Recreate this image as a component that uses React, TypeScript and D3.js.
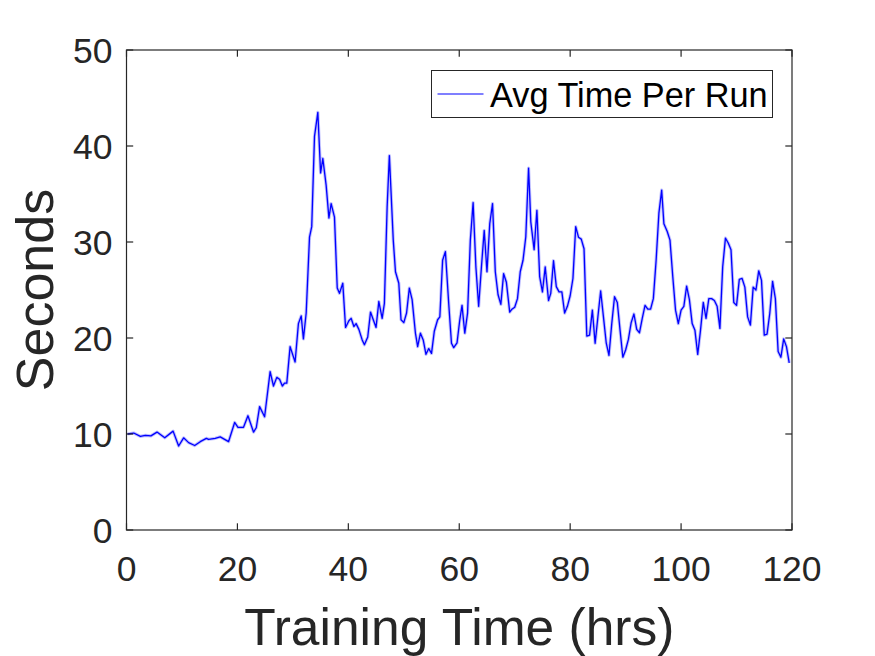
import * as d3 from 'd3';

// Hours of training (x) and average seconds per run (y)
const hours = [
    0.2, 1.3, 2.5, 3.4, 4.4, 5.5, 6.9, 8.4, 9.4, 10.3, 11.2, 12.3, 13.3, 14.4, 14.8, 16.0, 16.9, 18.4, 19.5,
    20.1, 21.1, 21.9, 22.9, 23.4, 24.0, 24.9, 25.9, 26.5, 27.1, 27.6, 28.1, 28.5, 28.9, 29.5, 30.4, 31.0,
    31.5, 31.9, 32.4, 33.0, 33.4, 33.9, 34.5, 35.0, 35.4, 36.0, 36.5, 36.9, 37.5, 38.0, 38.4, 39.0, 39.5,
    40.1, 40.5, 41.0, 41.4, 41.9, 42.5, 42.9, 43.5, 44.0, 44.4, 45.0, 45.5, 46.1, 46.5, 47.0, 47.4, 48.1,
    48.5, 49.1, 49.5, 50.0, 50.5, 51.0, 51.5, 52.1, 52.5, 53.0, 53.5, 54.0, 54.5, 55.0, 55.5, 56.1, 56.5,
    57.0, 57.5, 58.1, 58.6, 59.0, 59.6, 60.1, 60.5, 61.0, 61.5, 62.0, 62.5, 63.0, 63.5, 64.0, 64.5, 65.0,
    65.5, 66.0, 66.5, 67.0, 67.5, 68.0, 68.5, 69.1, 69.5, 70.0, 70.5, 71.0, 71.5, 72.0, 72.5, 72.9, 73.5,
    74.0, 74.5, 75.0, 75.5, 76.1, 76.5, 77.0, 77.5, 78.0, 78.5, 79.0, 79.5, 80.0, 80.5, 81.0, 81.5, 82.0,
    82.5, 83.0, 83.5, 84.0, 84.5, 85.0, 85.5, 86.0, 86.5, 87.0, 87.5, 88.0, 88.5, 89.0, 89.5, 90.0, 90.5,
    91.0, 91.5, 92.0, 92.5, 93.0, 93.5, 94.0, 94.5, 95.0, 95.5, 96.0, 96.5, 96.9, 97.5, 98.0, 98.5, 99.0,
    99.5, 100.0, 100.5, 101.0, 101.5, 102.0, 102.5, 103.0, 103.5, 104.0, 104.5, 105.0, 105.5, 106.0, 106.5,
    107.0, 107.5, 108.0, 108.5, 109.0, 109.5, 110.0, 110.5, 111.0, 111.5, 112.0, 112.5, 113.0, 113.5, 114.0,
    114.5, 115.0, 115.5, 116.0, 116.5, 117.0, 117.5, 118.0, 118.5, 119.0, 119.5
];

const avgTime = [
    10.0, 10.1, 9.75, 9.85, 9.8, 10.2, 9.6, 10.3, 8.75, 9.6, 9.1, 8.8, 9.2, 9.55, 9.45, 9.55, 9.7, 9.2, 11.2,
    10.7, 10.7, 11.9, 10.2, 10.65, 12.85, 11.8, 16.5, 15.0, 15.9, 15.7, 15.0, 15.3, 15.3, 19.1, 17.5, 21.5,
    22.3, 19.9, 22.6, 30.5, 31.6, 41.0, 43.5, 37.2, 38.7, 35.9, 32.5, 34.0, 32.6, 25.2, 24.65, 25.7, 21.1,
    21.8, 22.05, 21.2, 21.5, 20.9, 19.8, 19.3, 20.1, 22.7, 22.05, 21.1, 23.8, 22.05, 23.6, 33.7, 39.0, 30.2,
    26.9, 25.7, 21.9, 21.6, 22.6, 25.2, 24.0, 20.5, 19.1, 20.5, 19.8, 18.3, 18.9, 18.4, 20.7, 21.9, 22.2,
    28.1, 29.0, 23.6, 19.45, 19.0, 19.5, 21.9, 23.4, 20.5, 22.6, 30.2, 34.1, 27.4, 23.3, 27.4, 31.2, 26.9,
    31.9, 34.0, 26.9, 24.5, 23.5, 26.7, 25.8, 22.7, 23.0, 23.2, 24.1, 26.9, 28.1, 30.55, 37.7, 32.1, 29.2,
    33.3, 26.4, 24.8, 27.4, 23.9, 24.65, 28.05, 25.35, 24.8, 24.8, 22.6, 23.3, 24.4, 26.2, 31.6, 30.5, 30.3,
    29.3, 20.2, 20.3, 22.9, 19.45, 22.2, 24.9, 22.2, 19.5, 18.2, 21.5, 24.3, 23.7, 20.8, 18.0, 18.75, 19.85,
    21.6, 22.5, 20.9, 20.55, 22.05, 23.4, 23.0, 23.0, 24.1, 28.1, 33.0, 35.4, 31.9, 31.1, 30.2, 26.4, 22.9,
    21.5, 22.9, 23.3, 25.4, 24.0, 21.5, 20.8, 18.3, 20.8, 23.7, 22.05, 24.1, 24.1, 23.9, 23.3,
    21.0, 27.4, 30.4, 29.9, 29.2, 23.7, 23.4, 26.1, 26.2, 25.3, 22.2, 21.35, 25.3, 25.0, 27.0,
    26.0, 20.3, 20.4, 22.6, 25.9, 24.1, 18.6, 18.0, 19.9, 19.1, 17.4
];

const xTicks = [0, 20, 40, 60, 80, 100, 120];
const yTicks = [0, 10, 20, 30, 40, 50];
const seriesName = "Avg Time Per Run";

const W = 875;
const H = 656;
const margin = { top: 50, right: 83, bottom: 126, left: 126.5 };
const FONT = "'Liberation Sans', Arial, Helvetica, sans-serif";
const AXIS = "#262626";

export default function App() {
    const plotW = W - margin.left - margin.right;
    const plotH = H - margin.top - margin.bottom;

    const x = d3.scaleLinear().domain([0, 120]).range([0, plotW]);
    const y = d3.scaleLinear().domain([0, 50]).range([plotH, 0]);

    const pts = hours.map((h, i) => [h, avgTime[i]] as [number, number]);
    const line = d3.line<[number, number]>()
        .x(d => x(d[0]))
        .y(d => y(d[1]));
    const path = line(pts) || "";

    const tick = 6.7;

    return (
        <svg width={W} height={H} style={{ position: "absolute", left: 0, top: 0, background: "#fff" }}
            fontFamily={FONT}>
            <rect width={W} height={H} fill="#fff" />
            <g transform={`translate(${margin.left},${margin.top})`}>
                {/* faint band around the mean */}
                <path d={path} fill="none" stroke="#0000ff" strokeOpacity={0.25} strokeWidth={3.2} strokeLinejoin="round" />
                <path d={path} fill="none" stroke="#0000ff" strokeWidth={1.3} strokeLinejoin="round" />

                {/* box */}
                <rect x={0} y={0} width={plotW} height={plotH} fill="none" stroke={AXIS} strokeWidth={1.2} />

                {xTicks.map(t => (
                    <g key={`x${t}`}>
                        <line x1={x(t)} x2={x(t)} y1={plotH} y2={plotH - tick} stroke={AXIS} strokeWidth={1.2} />
                        <line x1={x(t)} x2={x(t)} y1={0} y2={tick} stroke={AXIS} strokeWidth={1.2} />
                        <text x={x(t)} y={plotH + 51} textAnchor="middle" fontSize={35.5} fill={AXIS}>{t}</text>
                    </g>
                ))}
                {yTicks.map(t => (
                    <g key={`y${t}`}>
                        <line x1={0} x2={tick} y1={y(t)} y2={y(t)} stroke={AXIS} strokeWidth={1.2} />
                        <line x1={plotW} x2={plotW - tick} y1={y(t)} y2={y(t)} stroke={AXIS} strokeWidth={1.2} />
                        <text x={-14} y={y(t) + 12.5} textAnchor="end" fontSize={35.5} fill={AXIS}>{t}</text>
                    </g>
                ))}

                {/* legend */}
                <g transform={`translate(${431.5 - margin.left},${70.5 - margin.top})`}>
                    <rect x={0} y={0} width={341} height={47} fill="#fff" stroke={AXIS} strokeWidth={1} />
                    <line x1={6} x2={52} y1={23.5} y2={23.5} stroke="#0000ff" strokeWidth={1.1} />
                    <text x={58.5} y={36.5} fontSize={34.3} fill="#000">{seriesName}</text>
                </g>
            </g>

            <text x={margin.left + plotW / 2} y={645} textAnchor="middle" fontSize={51.5} fill={AXIS}>
                Training Time (hrs)
            </text>
            <text transform={`translate(53,${margin.top + plotH / 2}) rotate(-90)`} textAnchor="middle"
                fontSize={52} fill={AXIS}>
                Seconds
            </text>
        </svg>
    );
}
